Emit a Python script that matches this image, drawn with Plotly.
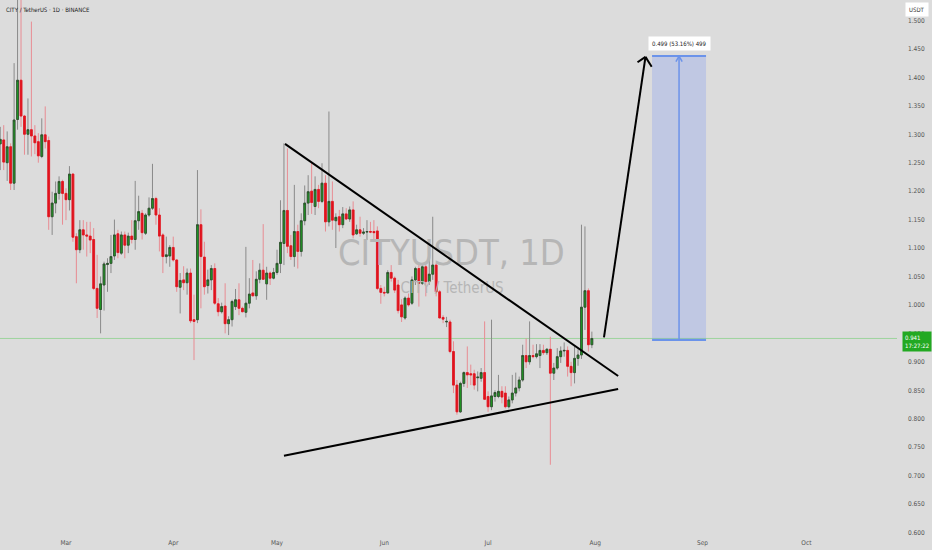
import pandas as pd
import plotly.graph_objects as go

# CITY / USDT daily candles, 10 Feb -> 31 Jul
opens = [
    1.283, 1.290, 1.250, 1.278, 1.214, 1.326, 1.395, 1.332, 1.300, 1.308,
    1.297, 1.287, 1.261, 1.299, 1.289, 1.155, 1.179, 1.196, 1.217, 1.196,
    1.185, 1.230, 1.120, 1.097, 1.132, 1.123, 1.121, 1.115, 1.029, 0.992,
    1.035, 1.071, 1.073, 1.086, 1.125, 1.091, 1.123, 1.105, 1.121, 1.115,
    1.148, 1.161, 1.126, 1.158, 1.170, 1.187, 1.158, 1.123, 1.085, 1.086,
    1.101, 1.079, 1.031, 1.044, 1.039, 1.056, 0.974, 0.974, 1.141, 1.084,
    1.034, 1.044, 1.064, 1.002, 0.988, 0.998, 0.967, 0.974, 0.997, 1.009,
    0.994, 0.987, 1.003, 1.021, 1.016, 1.045, 1.061, 1.037, 1.056, 1.047,
    1.057, 1.073, 1.108, 1.166, 1.104, 1.085, 1.129, 1.094, 1.148, 1.179,
    1.200, 1.173, 1.203, 1.182, 1.214, 1.146, 1.182, 1.148, 1.155, 1.141,
    1.160, 1.151, 1.167, 1.125, 1.132, 1.126, 1.128, 1.129, 1.129, 1.130,
    1.029, 1.022, 1.021, 1.057, 1.047, 1.035, 1.000, 0.977, 1.012, 1.003,
    1.044, 1.064, 1.038, 1.067, 1.041, 1.054, 1.070, 1.023, 0.978, 0.970,
    0.970, 0.918, 0.859, 0.812, 0.862, 0.881, 0.879, 0.879, 0.872, 0.871,
    0.881, 0.839, 0.821, 0.839, 0.839, 0.848, 0.845, 0.821, 0.833, 0.845,
    0.854, 0.868, 0.911, 0.900, 0.911, 0.909, 0.911, 0.920, 0.916, 0.922,
    0.880, 0.889, 0.909, 0.919, 0.920, 0.892, 0.881, 0.906, 0.912, 0.996,
    1.025, 0.930,
]
highs = [
    1.313, 1.316, 1.305, 1.284, 1.425, 1.560, 1.555, 1.334, 1.363, 1.498,
    1.316, 1.302, 1.328, 1.349, 1.296, 1.199, 1.217, 1.226, 1.220, 1.205,
    1.244, 1.231, 1.126, 1.149, 1.149, 1.146, 1.146, 1.135, 1.088, 1.050,
    1.076, 1.082, 1.123, 1.150, 1.132, 1.129, 1.129, 1.127, 1.149, 1.218,
    1.192, 1.167, 1.161, 1.189, 1.248, 1.190, 1.170, 1.126, 1.120, 1.105,
    1.120, 1.080, 1.056, 1.068, 1.064, 1.064, 1.018, 1.237, 1.168, 1.111,
    1.062, 1.070, 1.073, 1.012, 1.004, 1.038, 0.980, 1.009, 1.028, 1.038,
    0.997, 1.102, 1.047, 1.079, 1.059, 1.073, 1.142, 1.067, 1.059, 1.065,
    1.097, 1.184, 1.284, 1.275, 1.123, 1.211, 1.141, 1.161, 1.210, 1.228,
    1.250, 1.226, 1.211, 1.249, 1.228, 1.340, 1.217, 1.161, 1.167, 1.172,
    1.170, 1.173, 1.182, 1.141, 1.155, 1.135, 1.149, 1.146, 1.149, 1.138,
    1.035, 1.032, 1.061, 1.070, 1.050, 1.044, 1.010, 1.015, 1.020, 1.050,
    1.067, 1.070, 1.070, 1.070, 1.100, 1.155, 1.073, 1.026, 0.982, 0.979,
    0.974, 0.936, 0.868, 0.865, 0.883, 0.927, 0.895, 0.886, 0.883, 0.889,
    0.971, 0.848, 0.974, 0.850, 0.877, 0.857, 0.857, 0.839, 0.877, 0.881,
    0.874, 0.930, 0.941, 0.971, 0.930, 0.931, 0.931, 0.930, 0.924, 0.944,
    0.898, 0.924, 0.927, 0.934, 0.927, 0.900, 0.927, 0.922, 1.141, 1.138,
    1.029, 0.953,
]
lows = [
    1.237, 1.237, 1.218, 1.202, 1.202, 1.308, 1.313, 1.264, 1.264, 1.261,
    1.265, 1.250, 1.258, 1.275, 1.132, 1.123, 1.161, 1.185, 1.141, 1.149,
    1.166, 1.111, 1.038, 1.091, 1.097, 1.085, 1.091, 1.026, 0.977, 0.950,
    0.990, 1.023, 1.056, 1.079, 1.082, 1.088, 1.082, 1.091, 1.108, 1.097,
    1.132, 1.115, 1.123, 1.155, 1.167, 1.141, 1.094, 1.056, 1.073, 1.067,
    1.076, 1.023, 0.985, 1.026, 1.018, 0.968, 0.903, 0.968, 0.994, 1.018,
    1.020, 1.026, 1.000, 0.980, 0.985, 0.950, 0.947, 0.962, 0.991, 0.982,
    0.987, 0.978, 0.994, 1.015, 1.009, 1.038, 1.044, 1.009, 1.035, 1.045,
    1.053, 1.056, 1.070, 1.091, 1.079, 1.067, 1.064, 1.085, 1.140, 1.158,
    1.160, 1.158, 1.170, 1.179, 1.129, 1.138, 1.132, 1.100, 1.129, 1.135,
    1.149, 1.146, 1.117, 1.123, 1.120, 1.123, 1.114, 1.126, 1.114, 1.026,
    1.002, 1.015, 1.021, 1.041, 1.021, 0.985, 0.970, 0.974, 0.997, 1.000,
    1.035, 0.997, 1.035, 1.015, 1.035, 1.044, 1.015, 0.977, 0.968, 0.961,
    0.915, 0.845, 0.807, 0.810, 0.856, 0.854, 0.859, 0.851, 0.848, 0.865,
    0.833, 0.812, 0.815, 0.830, 0.836, 0.827, 0.818, 0.818, 0.827, 0.839,
    0.848, 0.865, 0.889, 0.895, 0.906, 0.906, 0.889, 0.912, 0.912, 0.719,
    0.868, 0.886, 0.898, 0.909, 0.874, 0.857, 0.862, 0.893, 0.905, 0.956,
    0.918, 0.924,
]
closes = [
    1.291, 1.251, 1.278, 1.214, 1.325, 1.395, 1.332, 1.300, 1.308, 1.297,
    1.285, 1.262, 1.299, 1.287, 1.155, 1.179, 1.196, 1.217, 1.196, 1.185,
    1.230, 1.119, 1.097, 1.132, 1.123, 1.121, 1.114, 1.029, 0.994, 1.037,
    1.072, 1.073, 1.085, 1.123, 1.092, 1.123, 1.105, 1.121, 1.115, 1.148,
    1.164, 1.127, 1.158, 1.170, 1.187, 1.158, 1.121, 1.085, 1.088, 1.101,
    1.079, 1.032, 1.043, 1.039, 1.056, 0.972, 0.971, 1.141, 1.085, 1.032,
    1.044, 1.064, 1.003, 0.988, 0.997, 0.967, 0.974, 1.006, 1.009, 0.994,
    0.988, 1.003, 1.019, 1.016, 1.045, 1.061, 1.045, 1.056, 1.047, 1.057,
    1.073, 1.110, 1.166, 1.103, 1.085, 1.129, 1.094, 1.148, 1.179, 1.199,
    1.180, 1.203, 1.182, 1.214, 1.146, 1.182, 1.149, 1.154, 1.141, 1.160,
    1.151, 1.167, 1.123, 1.132, 1.126, 1.128, 1.129, 1.128, 1.127, 1.029,
    1.022, 1.021, 1.057, 1.047, 1.026, 0.990, 0.979, 1.012, 1.000, 1.044,
    1.064, 1.038, 1.067, 1.041, 1.054, 1.070, 1.023, 0.977, 0.975, 0.971,
    0.918, 0.859, 0.812, 0.862, 0.881, 0.877, 0.877, 0.859, 0.873, 0.881,
    0.834, 0.821, 0.840, 0.846, 0.848, 0.838, 0.821, 0.833, 0.845, 0.854,
    0.868, 0.911, 0.900, 0.911, 0.909, 0.914, 0.920, 0.916, 0.922, 0.880,
    0.889, 0.909, 0.919, 0.920, 0.892, 0.881, 0.906, 0.912, 0.996, 1.025,
    0.930, 0.941,
]

price_ticks = [0.60, 0.65, 0.70, 0.75, 0.80, 0.85, 0.90, 0.95, 1.00, 1.05,
               1.10, 1.15, 1.20, 1.25, 1.30, 1.35, 1.40, 1.45, 1.50]
month_ticks = ["2025-03-01", "2025-04-01", "2025-05-01", "2025-06-01",
               "2025-07-01", "2025-08-01", "2025-09-01", "2025-10-01"]
month_labels = ["Mar", "Apr", "May", "Jun", "Jul", "Aug", "Sep", "Oct"]

last_price = 0.941
countdown = "17:27:22"
target_low = 0.9385
target_high = 1.4375
target_label = "0.499 (53.16%) 499"

start = pd.Timestamp("2025-02-10")
dates = pd.date_range(start, periods=len(closes), freq="D")


def day(d):
    # days after the first candle -> timestamp
    return start + pd.Timedelta(days=d)


BG = "#dcdcdc"
FONT = "Liberation Sans Narrow, DejaVu Sans Condensed, Liberation Sans, sans-serif"
AXIS_X = 917 / 897   # centre of the price scale, in plot-width units

fig = go.Figure()

# watermark behind the candles
fig.add_trace(go.Scatter(x=[day(130.4)], y=[1.086], mode="text", text=["CITYUSDT, 1D"],
                         textfont=dict(size=36, color="#b6b6b6", family=FONT), hoverinfo="skip"))
fig.add_trace(go.Scatter(x=[day(130.6)], y=[1.027], mode="text", text=["CITY / TetherUS"],
                         textfont=dict(size=15, color="#b6b6b6", family=FONT), hoverinfo="skip"))

# wicks
fig.add_trace(go.Candlestick(x=dates, open=opens, high=highs, low=lows, close=closes,
                             increasing=dict(line=dict(color="#8a8a8a", width=1), fillcolor="#8a8a8a"),
                             decreasing=dict(line=dict(color="#e88c93", width=1), fillcolor="#e88c93"),
                             whiskerwidth=0, hoverinfo="skip"))
# bodies
body_top = [max(o, c) for o, c in zip(opens, closes)]
body_bot = [min(o, c) for o, c in zip(opens, closes)]
fig.add_trace(go.Candlestick(x=dates, open=opens, high=body_top, low=body_bot, close=closes,
                             increasing=dict(line=dict(color="#2b4a2b", width=0.8), fillcolor="#1f9f23"),
                             decreasing=dict(line=dict(color="#e0141e", width=0.8), fillcolor="#e0141e"),
                             whiskerwidth=0, hoverinfo="skip"))

shapes = []
# current price line
shapes.append(dict(type="line", xref="paper", x0=0, x1=1, yref="y", y0=last_price, y1=last_price,
                   line=dict(color="#9fd49f", width=1), layer="below"))

# triangle trend lines
blk = dict(color="black", width=2)
shapes.append(dict(type="line", x0=day(82.3), y0=1.283, x1=day(178.6), y1=0.875, line=blk))
shapes.append(dict(type="line", x0=day(82.0), y0=0.735, x1=day(178.6), y1=0.852, line=blk))

# breakout arrow
shapes.append(dict(type="line", x0=day(174.5), y0=0.943, x1=day(186.5), y1=1.436, line=blk))
shapes.append(dict(type="line", x0=day(184.2), y0=1.4265, x1=day(186.5), y1=1.436, line=blk))
shapes.append(dict(type="line", x0=day(188.3), y0=1.4188, x1=day(186.5), y1=1.436, line=blk))

# price range projection box
blue = "#6b93ea"
shapes.append(dict(type="rect", x0=day(188.4), x1=day(204.0), y0=target_low, y1=target_high,
                   fillcolor="rgba(80,120,255,0.2)", line=dict(width=0)))
shapes.append(dict(type="line", x0=day(188.4), x1=day(204.0), y0=target_low, y1=target_low,
                   line=dict(color=blue, width=2)))
shapes.append(dict(type="line", x0=day(188.4), x1=day(204.0), y0=target_high, y1=target_high,
                   line=dict(color=blue, width=2)))
shapes.append(dict(type="line", x0=day(196.2), x1=day(196.2), y0=target_low, y1=target_high,
                   line=dict(color=blue, width=1.5)))
shapes.append(dict(type="line", x0=day(195.3), x1=day(196.2), y0=1.4275, y1=target_high,
                   line=dict(color=blue, width=1.5)))
shapes.append(dict(type="line", x0=day(197.1), x1=day(196.2), y0=1.4275, y1=target_high,
                   line=dict(color=blue, width=1.5)))

fig.update_layout(shapes=shapes)

annotations = [
    dict(x=day(196.2), y=1.459, xref="x", yref="y", showarrow=False, text=target_label,
         xanchor="center", yanchor="middle",
         font=dict(size=6, color="#222", family=FONT), bgcolor="white", borderpad=3),
    dict(x=0.004, y=1 - 9.5 / 537, xref="paper", yref="paper", xanchor="left", yanchor="middle",
         showarrow=False, text="CITY / TetherUS · 1D · BINANCE",
         font=dict(size=6, color="#222", family=FONT)),
    dict(x=AXIS_X, y=1 - 10 / 537, xref="paper", yref="paper", xanchor="center", yanchor="middle",
         showarrow=False, text="USDT", font=dict(size=6, color="#333", family=FONT),
         bgcolor="white", borderpad=3),
    dict(x=AXIS_X, y=0.9362, xref="paper", yref="y", xanchor="center", yanchor="middle",
         showarrow=False, text=f"{last_price:.3f}<br>{countdown}", align="left",
         font=dict(size=6, color="white", family=FONT), bgcolor="#22a922", borderpad=2),
]

fig.update_layout(
    width=932, height=550,
    margin=dict(l=0, r=35, t=0, b=13),
    paper_bgcolor=BG, plot_bgcolor=BG,
    showlegend=False,
    boxgap=0.25,
    annotations=annotations,
    xaxis=dict(type="date", range=[day(-0.075), day(259.2)], rangeslider=dict(visible=False),
               showgrid=False, zeroline=False, showline=False, ticks="", automargin=False,
               tickmode="array", tickvals=month_ticks, ticktext=month_labels,
               tickfont=dict(size=6.5, color="#555", family=FONT), fixedrange=True),
    yaxis=dict(side="right", range=[0.592, 1.536], showgrid=False, zeroline=False, showline=False,
               tickmode="array", tickvals=price_ticks, tickformat=".3f", ticks="", automargin=False,
               ticklabelstandoff=10, tickfont=dict(size=6.5, color="#555", family=FONT),
               fixedrange=True),
)

# the page body has an 8px default margin; drop it so the chart fills the window
fig.write_html("out.html", config={"displayModeBar": False},
               post_script="document.body.style.margin='0';")
